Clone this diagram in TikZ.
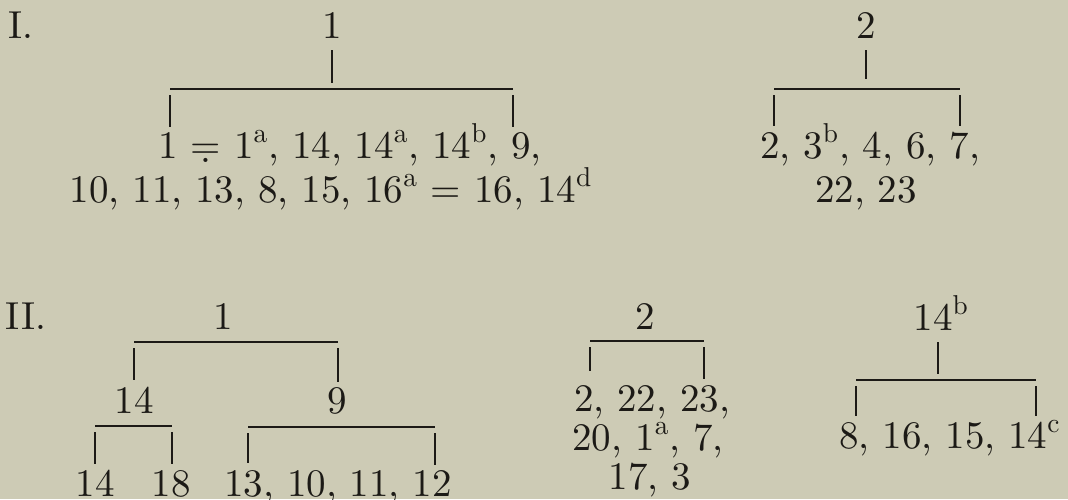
\documentclass[tikz,border=0pt]{standalone}
\usepackage{fontspec}
\setmainfont{lmroman10-regular.otf}
\definecolor{paper}{RGB}{205,203,181}
\definecolor{ink}{RGB}{28,26,22}
\newcommand\eqdot{\ooalign{=\cr\hidewidth\raisebox{-0.25ex}{.}\hidewidth\cr}}

\begin{document}
\begin{tikzpicture}[
    x=0.5pt, y=-0.5pt, line width=0.9pt, draw=ink,
    num/.style={anchor=base, inner sep=0pt, text=ink, font=\fontsize{19.5}{19.5}\selectfont},
  ]
  \useasboundingbox (0,0) rectangle (1068,499);
  \fill[paper] (0,0) rectangle (1068,499);

  % I.
  \node[num, anchor=base west] (sec1) at (8,38) {I.};
  \node[num] (t1) at (332,38) {1};
  \coordinate (t1l) at (170,89);
  \coordinate (t1r) at (513,89);
  \draw (t1.base) ++(0,12) -- ++(0,33);
  \draw (t1l) -- (t1r);
  \draw (t1l) ++(0,6) -- ++(0,32);
  \draw (t1r) ++(0,6) -- ++(0,32);
  \node[num] (t1a) at (350,158) {1 \eqdot{} 1\textsuperscript{a}, 14, 14\textsuperscript{a}, 14\textsuperscript{b}, 9,};
  \node[num] (t1b) at (331,202) {10, 11, 13, 8, 15, 16\textsuperscript{a} = 16, 14\textsuperscript{d}};

  \node[num] (t2) at (866,38) {2};
  \coordinate (t2l) at (774,89);
  \coordinate (t2r) at (960,89);
  \draw (t2.base) ++(0,12) -- ++(0,29);
  \draw (t2l) -- (t2r);
  \draw (t2l) ++(0,6) -- ++(0,31);
  \draw (t2r) ++(0,6) -- ++(0,31);
  \node[num] (t2a) at (870,158) {2, 3\textsuperscript{b}, 4, 6, 7,};
  \node[num] (t2b) at (866,202) {22, 23};

  % II.
  \node[num, anchor=base west] (sec2) at (5,329) {II.};
  \node[num] (u1) at (223,329) {1};
  \coordinate (u1l) at (134,342);
  \coordinate (u1r) at (338,342);
  \draw (u1l) -- (u1r);
  \draw (u1l) ++(0,6) -- ++(0,32);
  \draw (u1r) ++(0,6) -- ++(0,34);
  \node[num] (u14) at (134,413) {14};
  \node[num] (u9) at (337,413) {9};

  \coordinate (u14l) at (95,426);
  \coordinate (u14r) at (172,426);
  \draw (u14l) -- (u14r);
  \draw (u14l) ++(0,6) -- ++(0,32);
  \draw (u14r) ++(0,6) -- ++(0,32);
  \node[num] (u14a) at (95,496) {14};
  \node[num] (u18) at (171,496) {18};

  \coordinate (u9l) at (248,427);
  \coordinate (u9r) at (435,427);
  \draw (u9l) -- (u9r);
  \draw (u9l) ++(0,6) -- ++(0,30);
  \draw (u9r) ++(0,6) -- ++(0,32);
  \node[num] (u9a) at (338,496) {13, 10, 11, 12};

  \node[num] (u2) at (645,329) {2};
  \coordinate (u2l) at (590,341);
  \coordinate (u2r) at (704,341);
  \draw (u2l) -- (u2r);
  \draw (u2l) ++(0,6) -- ++(0,24);
  \draw (u2r) ++(0,6) -- ++(0,32);
  \node[num] (u2a) at (652,411) {2, 22, 23,};
  \node[num] (u2b) at (648,450) {20, 1\textsuperscript{a}, 7,};
  \node[num] (u2c) at (650,489) {17, 3};

  \node[num] (u14b) at (933,330) {14\rlap{\textsuperscript{b}}};
  \coordinate (u14bl) at (856,380);
  \coordinate (u14br) at (1036,380);
  \draw (u14b.base) ++(5,12) -- ++(0,32);
  \draw (u14bl) -- (u14br);
  \draw (u14bl) ++(0,6) -- ++(0,30);
  \draw (u14br) ++(0,6) -- ++(0,30);
  \node[num] (u14c) at (950,448) {8, 16, 15, 14\textsuperscript{c}};
\end{tikzpicture}
\end{document}
